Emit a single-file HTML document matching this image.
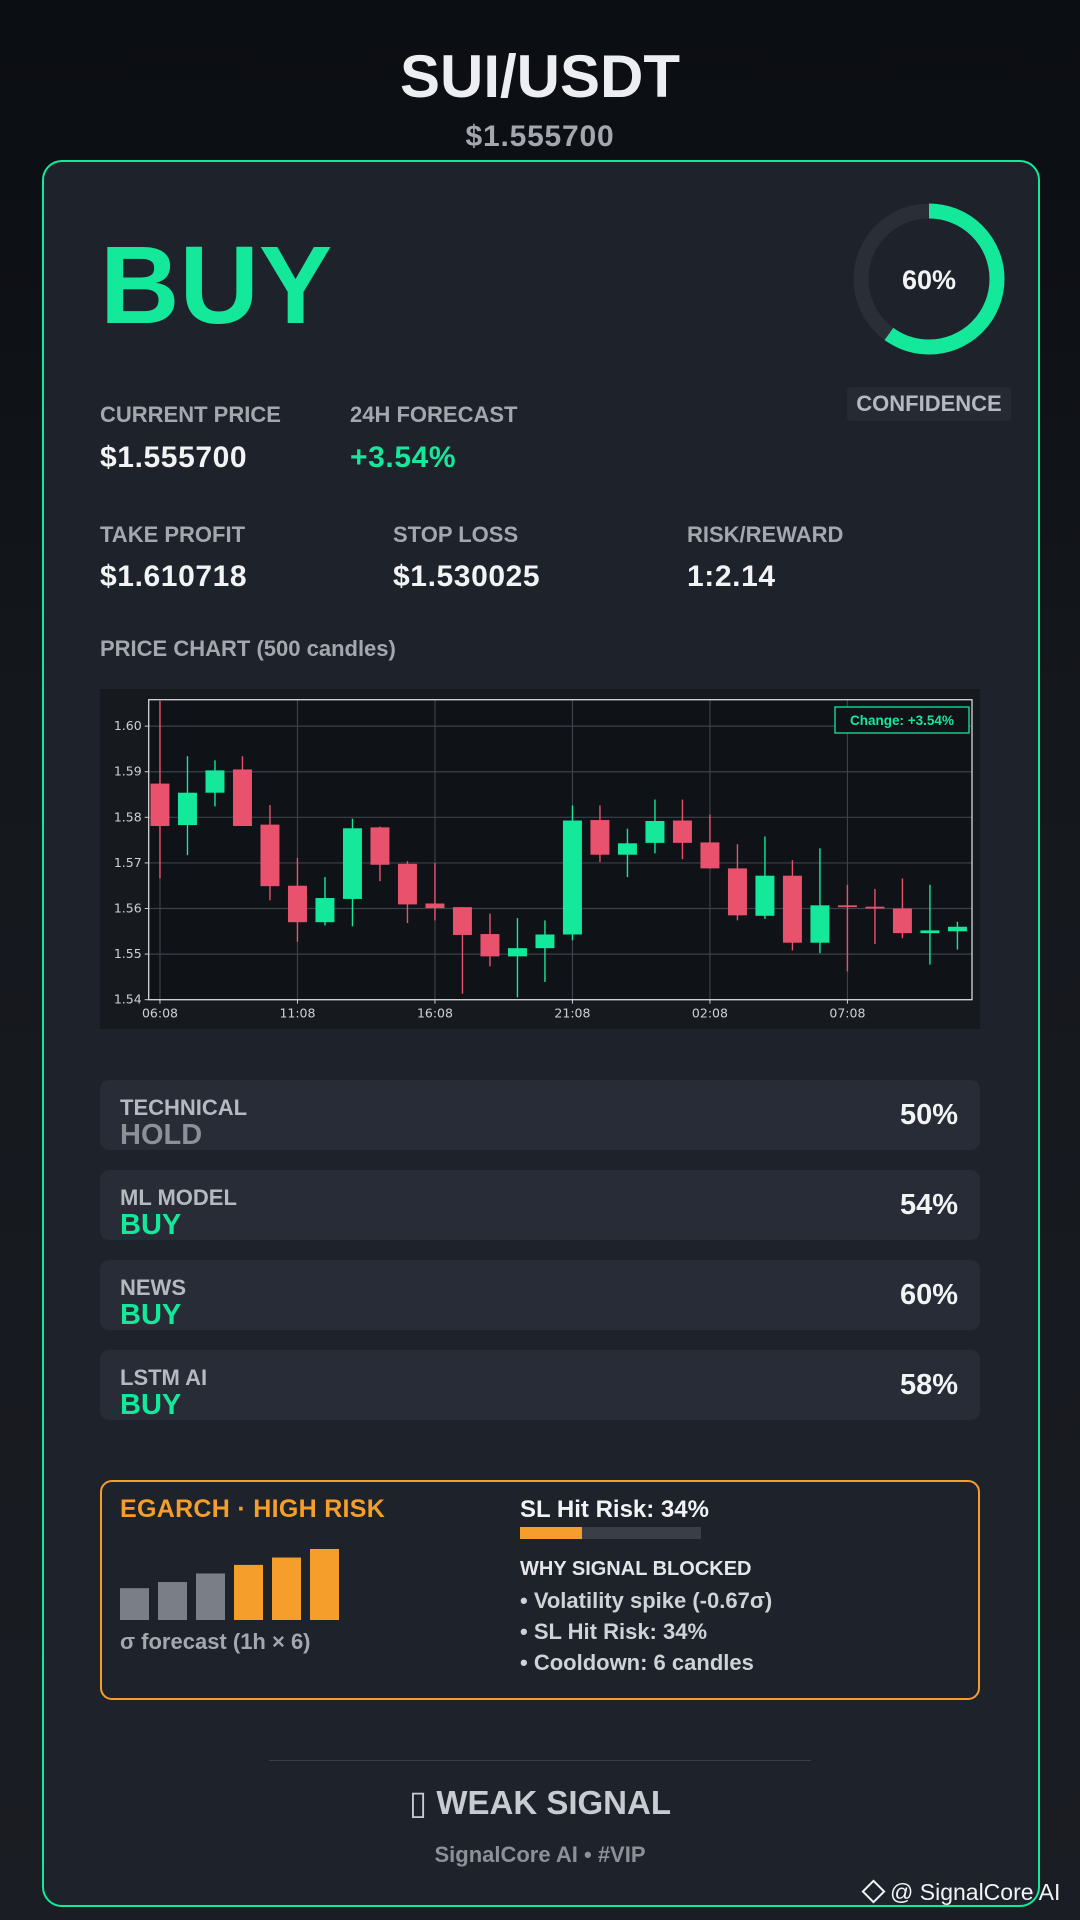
<!DOCTYPE html>
<html><head><meta charset="utf-8"><style>
*{margin:0;padding:0;box-sizing:border-box}
body{width:1080px;height:1920px;overflow:hidden;background:linear-gradient(#0b0e13 0,#0d1015 250px,#14171c 700px,#1a1d23 1920px);font-family:"Liberation Sans","DejaVu Sans",sans-serif;position:relative;color:#fff}
.a{position:absolute;white-space:nowrap}
.lbl{font-size:22px;color:#a3a7ae;font-weight:bold}
.val{font-size:30px;font-weight:bold;color:#f2f3f5;letter-spacing:0.6px}
.row{position:absolute;left:100px;width:880px;height:70px;background:#282c36;border-radius:9px}
.row .t{position:absolute;left:20px;top:15px;font-size:22px;font-weight:bold;color:#b5b9c0}
.row .v{position:absolute;left:20px;top:39px;font-size:29px;font-weight:bold}
.row .p{position:absolute;right:22px;top:19px;font-size:29px;font-weight:bold;color:#f2f3f5}
</style></head><body>
<div class="a" style="left:0;width:1080px;text-align:center;top:42px;font-size:60px;font-weight:bold;color:#eceef2">SUI/USDT</div>
<div class="a" style="left:0;width:1080px;text-align:center;top:120px;font-size:30px;font-weight:bold;color:#a3a7ae;letter-spacing:0.8px">$1.555700</div>
<div class="a" style="left:42px;top:160px;width:998px;height:1747px;border:2px solid #14e89a;border-radius:20px;background:#1e222a"></div>
<div class="a" style="left:100px;top:222px;font-size:110px;font-weight:bold;color:#14e89a">BUY</div>
<svg class="a" style="left:847px;top:197px" width="164" height="164" viewBox="0 0 164 164">
<circle cx="82" cy="82" r="68" fill="none" stroke="#2a2e37" stroke-width="15"/>
<circle cx="82" cy="82" r="68" fill="none" stroke="#14e89a" stroke-width="15" stroke-dasharray="256.4 427.3" transform="rotate(-90 82 82)"/>
<text x="82" y="92" text-anchor="middle" font-size="27" font-weight="bold" fill="#f2f3f5" font-family="Liberation Sans">60%</text>
</svg>
<div class="a" style="left:847px;top:387px;width:164px;height:34px;background:#262a33;border-radius:4px;text-align:center;line-height:34px;font-size:22px;font-weight:bold;color:#b5b9c0">CONFIDENCE</div>
<div class="a lbl" style="left:100px;top:402px">CURRENT PRICE</div>
<div class="a val" style="left:100px;top:441px">$1.555700</div>
<div class="a lbl" style="left:350px;top:402px">24H FORECAST</div>
<div class="a val" style="left:350px;top:441px;color:#14e89a">+3.54%</div>
<div class="a lbl" style="left:100px;top:522px">TAKE PROFIT</div>
<div class="a val" style="left:100px;top:560px">$1.610718</div>
<div class="a lbl" style="left:393px;top:522px">STOP LOSS</div>
<div class="a val" style="left:393px;top:560px">$1.530025</div>
<div class="a lbl" style="left:687px;top:522px">RISK/REWARD</div>
<div class="a val" style="left:687px;top:560px">1:2.14</div>
<div class="a lbl" style="left:100px;top:636px">PRICE CHART (500 candles)</div>
<svg class="a" id="chart" style="left:100px;top:689px;background:#161a1f" width="880" height="340"></svg>
<div class="row" style="top:1080px"><div class="t">TECHNICAL</div><div class="v" style="color:#8c9097">HOLD</div><div class="p">50%</div></div>
<div class="row" style="top:1170px"><div class="t">ML MODEL</div><div class="v" style="color:#14e89a">BUY</div><div class="p">54%</div></div>
<div class="row" style="top:1260px"><div class="t">NEWS</div><div class="v" style="color:#14e89a">BUY</div><div class="p">60%</div></div>
<div class="row" style="top:1350px"><div class="t">LSTM AI</div><div class="v" style="color:#14e89a">BUY</div><div class="p">58%</div></div>
<div class="a" style="left:100px;top:1480px;width:880px;height:220px;border:2px solid #f59e2b;border-radius:12px"></div>
<div class="a" style="left:120px;top:1495px;font-size:25px;font-weight:bold;color:#f59e2b;letter-spacing:0.3px">EGARCH · HIGH RISK</div>
<svg class="a" id="sig" style="left:120px;top:1540px" width="230" height="82"></svg>
<div class="a" style="left:120px;top:1629px;font-size:22px;font-weight:bold;color:#a3a7ae">σ forecast (1h × 6)</div>
<div class="a" style="left:520px;top:1496px;font-size:24px;font-weight:bold;color:#f2f3f5">SL Hit Risk: 34%</div>
<div class="a" style="left:520px;top:1527px;width:181px;height:12px;background:#3a3e47"><div style="width:34%;height:100%;background:#f59e2b"></div></div>
<div class="a" style="left:520px;top:1558px;font-size:20px;font-weight:bold;color:#e4e6ea">WHY SIGNAL BLOCKED</div>
<div class="a" style="left:520px;top:1588px;font-size:22px;font-weight:bold;color:#cfd2d7">• Volatility spike (-0.67σ)</div>
<div class="a" style="left:520px;top:1619px;font-size:22px;font-weight:bold;color:#cfd2d7">• SL Hit Risk: 34%</div>
<div class="a" style="left:520px;top:1650px;font-size:22px;font-weight:bold;color:#cfd2d7">• Cooldown: 6 candles</div>
<div class="a" style="left:269px;top:1760px;width:542px;height:1px;background:#3a3e47"></div>
<div class="a" style="left:0;width:1080px;text-align:center;top:1783px;font-size:33px;font-weight:bold;color:#c8ccd2">▯ WEAK SIGNAL</div>
<div class="a" style="left:0;width:1080px;text-align:center;top:1842px;font-size:22px;font-weight:bold;color:#8c9097">SignalCore AI • #VIP</div>
<div class="a" style="left:865px;top:1879px;font-size:23px;color:#f2f3f5"><span style="display:inline-block;width:17px;height:17px;border:2px solid #f2f3f5;transform:rotate(45deg);margin-right:8px"></span>@ SignalCore AI</div>
<script>
const opens=[1.5874,1.5783,1.5854,1.5905,1.5784,1.5650,1.5570,1.5621,1.5778,1.5698,1.5611,1.5603,1.5544,1.5495,1.5513,1.5543,1.5794,1.5718,1.5744,1.5793,1.5745,1.5688,1.5584,1.5672,1.5525,1.5607,1.5604,1.5600,1.5546,1.5550];
const closes=[1.5781,1.5854,1.5903,1.5781,1.5649,1.5570,1.5623,1.5776,1.5696,1.5609,1.5601,1.5542,1.5495,1.5513,1.5543,1.5793,1.5718,1.5743,1.5792,1.5744,1.5688,1.5585,1.5672,1.5525,1.5607,1.5603,1.5600,1.5546,1.5552,1.5560];
const highs=[1.6055,1.5934,1.5925,1.5934,1.5827,1.5711,1.5669,1.5797,1.5780,1.5704,1.5700,1.5603,1.5589,1.5579,1.5574,1.5826,1.5826,1.5775,1.5839,1.5839,1.5806,1.5741,1.5758,1.5706,1.5732,1.5652,1.5643,1.5666,1.5652,1.5571];
const lows=[1.5666,1.5717,1.5824,1.5781,1.5618,1.5527,1.5563,1.5561,1.5660,1.5568,1.5574,1.5413,1.5473,1.5405,1.5439,1.5530,1.5702,1.5669,1.5721,1.5708,1.5688,1.5574,1.5577,1.5508,1.5502,1.5462,1.5522,1.5535,1.5477,1.5510];
const yTicks=[1.54,1.55,1.56,1.57,1.58,1.59,1.60];
const yTickLabels=["1.54","1.55","1.56","1.57","1.58","1.59","1.60"];
const xTickIdx=[0,5,10,15,20,25];
const xTickLabels=["06:08","11:08","16:08","21:08","02:08","07:08"];
const sigma=[26,31,38,45,51,58];

const NS="http://www.w3.org/2000/svg";
const svg=document.getElementById('chart');
const L=48.7,R=872,T=10.7,B=310.7,y0=1.54,y1=1.6058,x0=-0.41,x1=29.53;
const X=i=>L+(i-x0)/(x1-x0)*(R-L);
const Y=v=>B-(v-y0)/(y1-y0)*(B-T);
function mk(t,a){const e=document.createElementNS(NS,t);for(const k in a)e.setAttribute(k,a[k]);svg.appendChild(e);return e;}
let bg=mk('rect',{x:L,y:T,width:R-L,height:B-T,fill:'#0f1216'});


yTicks.forEach((v,i)=>{
 let g=mk('line',{x1:L,x2:R,y1:Y(v),y2:Y(v),stroke:'#3c4049','stroke-width':1.2});
 
 
 mk('line',{x1:L-4,x2:L,y1:Y(v),y2:Y(v),stroke:'#ccc'});
 let t=mk('text',{x:L-7,y:Y(v)+4,'text-anchor':'end','font-size':12.5,fill:'#d0d0d0','font-family':'DejaVu Sans'});
 t.textContent=yTickLabels[i];
 
 
});
xTickIdx.forEach((idx,i)=>{
 let g=mk('line',{x1:X(idx),x2:X(idx),y1:T,y2:B,stroke:'#3c4049','stroke-width':1.2});
 
 
 mk('line',{x1:X(idx),x2:X(idx),y1:B,y2:B+4,stroke:'#ccc'});
 let t=mk('text',{x:X(idx),y:B+18,'text-anchor':'middle','font-size':12.5,fill:'#d0d0d0','font-family':'DejaVu Sans'});
 t.textContent=xTickLabels[i];
 
 
});
const bw=0.69*(X(1)-X(0));
opens.forEach((o,i)=>{
 const c=closes[i],col=c>=o?'#14e89a':'#e8526c';
 let w=mk('line',{x1:X(i),x2:X(i),y1:Y(highs[i]),y2:Y(lows[i]),stroke:col,'stroke-width':1.4});
 
 
 const top=Y(Math.max(o,c)),h=Math.max(Math.abs(Y(o)-Y(c)),1.5);
 let b=mk('rect',{x:X(i)-bw/2,y:top,width:bw,height:h,fill:col});
 
 
});
let fr=mk('rect',{x:L,y:T,width:R-L,height:B-T,fill:'none',stroke:'#d8d8d8','stroke-width':1.3});


let cb=mk('rect',{x:735,y:18,width:134,height:26,fill:'#0f1216',stroke:'#14e89a','stroke-width':1.3});


let ct=mk('text',{x:802,y:36,'text-anchor':'middle','font-size':13.5,'font-weight':'bold',fill:'#14e89a','font-family':'Liberation Sans'});
ct.textContent='Change: +3.54%';



const s=document.getElementById('sig');
sigma.forEach((h,i)=>{
 const r=document.createElementNS(NS,'rect');
 const hh=h*1.2245;
 r.setAttribute('x',i*38);r.setAttribute('y',80-hh);r.setAttribute('width',29);r.setAttribute('height',hh);
 r.setAttribute('fill',i<3?'#7a7e86':'#f59e2b');
 
 
 s.appendChild(r);
});
</script>
</body></html>
